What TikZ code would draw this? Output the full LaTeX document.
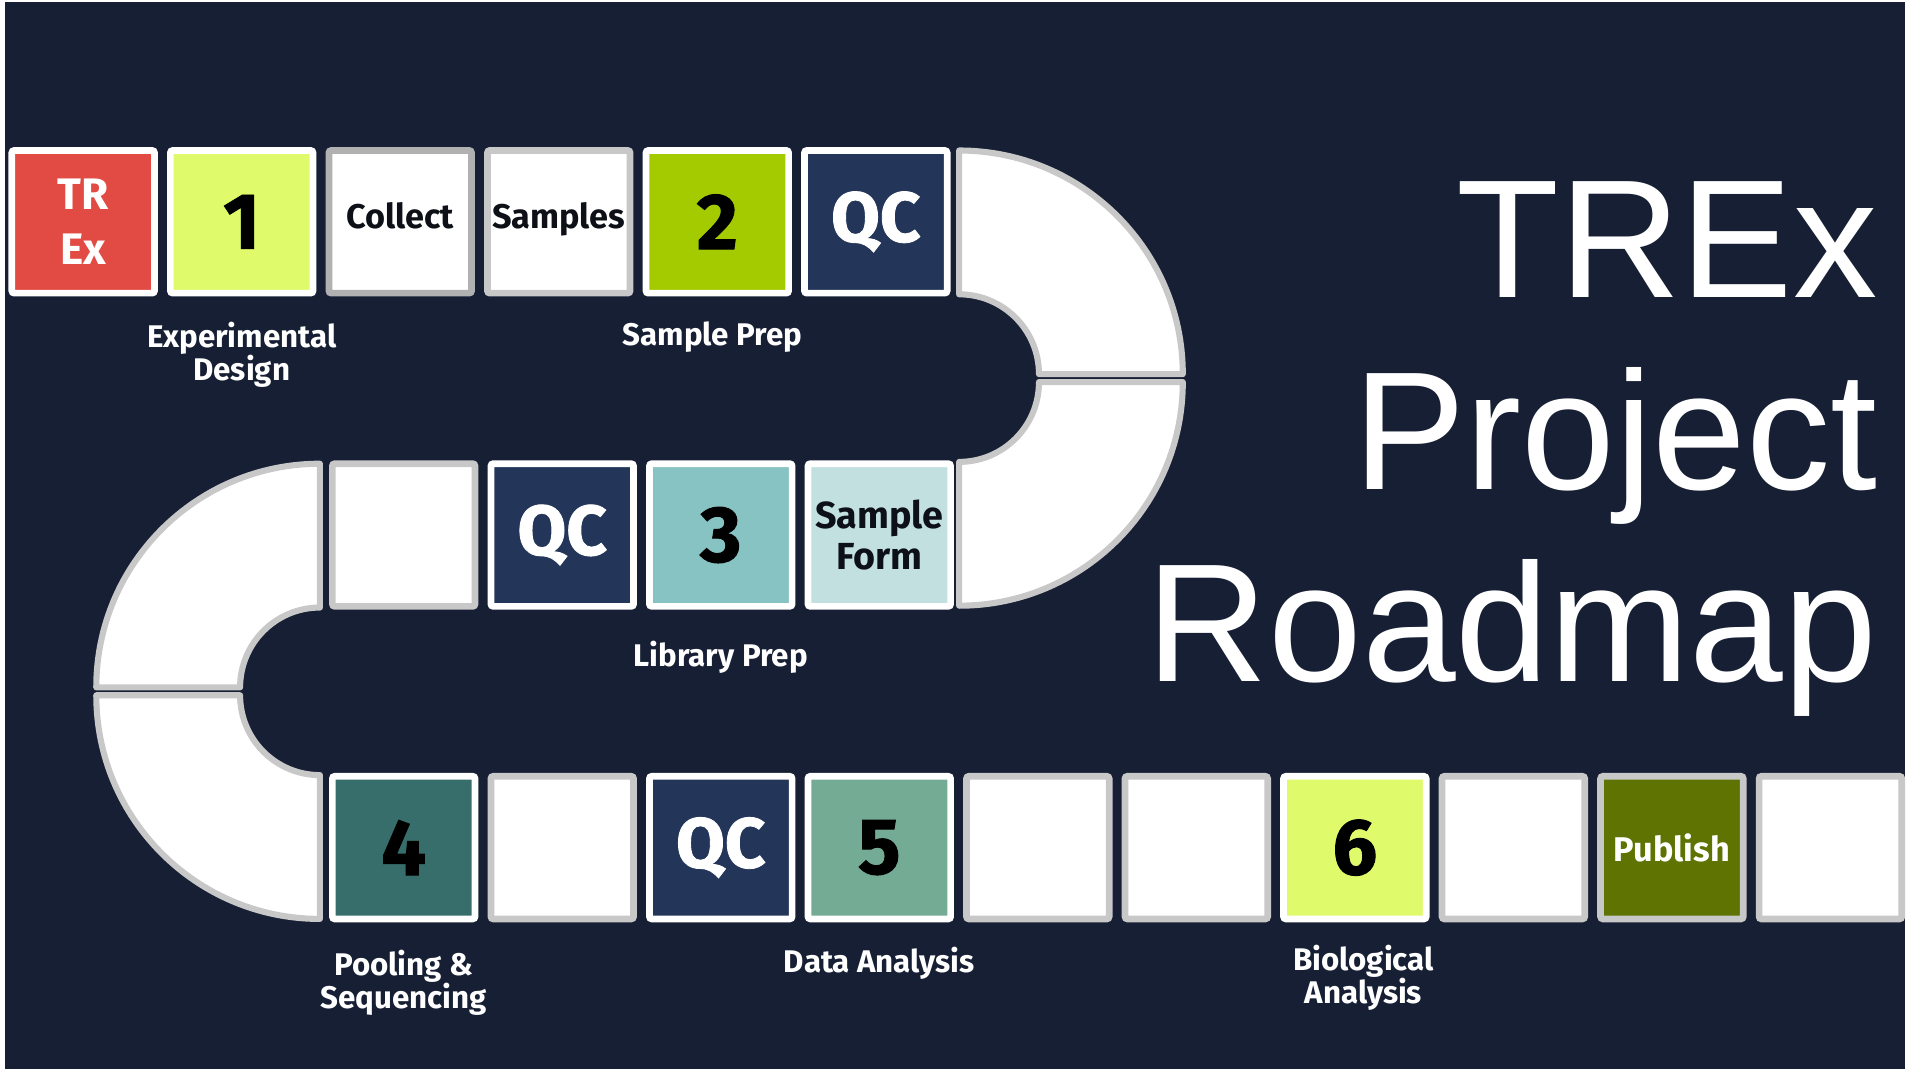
\documentclass[tikz,border=0pt]{standalone}
\usepackage{fontspec}
\setmainfont{Fira Sans}
\newfontfamily\heavyfont[FakeBold=1.2]{Fira Sans}
\newfontfamily\titlefont{Liberation Sans}
\usepackage{tikz}
\usetikzlibrary{positioning}
\usepackage{xcolor}

\definecolor{bgnavy}{HTML}{161F33}
\definecolor{trexred}{HTML}{E14B43}
\definecolor{lime}{HTML}{DFFB6B}
\definecolor{leaf}{HTML}{A3CB00}
\definecolor{qcnavy}{HTML}{233659}
\definecolor{teal}{HTML}{86C3C2}
\definecolor{paleteal}{HTML}{C2E0E0}
\definecolor{deepteal}{HTML}{376E6C}
\definecolor{sage}{HTML}{74AB95}
\definecolor{olive}{HTML}{5E7301}
\definecolor{pathgray}{HTML}{C8C8C8}
\definecolor{darkgray}{HTML}{B1B1B1}
\definecolor{ink}{HTML}{0D1117}

\begin{document}
\begin{tikzpicture}[
  x=0.01cm, y=0.01cm,
  node distance = 0.075cm,
  tile/.style  = {rectangle, draw=white, line width=0.055cm, minimum size=1.17cm,
                  inner sep=0pt, rounded corners=0.02cm, align=center},
  blank/.style = {tile, draw=pathgray, fill=white},
  digit/.style = {text=black, font=\heavyfont\fontsize{18.5}{18.5}\selectfont\bfseries},
  qc/.style    = {tile, fill=qcnavy, text=white,
                  font=\heavyfont\fontsize{16.5}{16.5}\selectfont\bfseries},
  word/.style  = {text=ink, font=\fontsize{8}{9.4}\selectfont\bfseries},
  stage/.style = {text=white, inner sep=0pt, align=center,
                  font=\fontsize{7.3}{7.8}\selectfont\bfseries},
  turnpiece/.style = {draw=pathgray, fill=white, line width=0.05cm, line join=round}
]
% Background
\fill[white] (0,0) rectangle (1568,-877);
\fill[bgnavy] (4,-1.6) rectangle (1563,-877);

% Row 1
\node[tile, fill=trexred, text=white, font=\fontsize{10.3}{12.8}\selectfont\bfseries]
  (trex) at (68.25,-182) {TR\\Ex};
\node[tile, fill=lime, digit, right=of trex] (s1) {1};
\node[blank, draw=darkgray, word, text depth=0.1cm, right=of s1] (collect) {Collect};
\node[blank, word, text depth=0.1cm, right=of collect] (samples) {Samples};
\node[tile, fill=leaf, digit, right=of samples] (s2) {2};
\node[qc, right=of s2] (qc1) {QC};

% Right turn
\draw[turnpiece] (787,-123.5) arc[start angle=90, end angle=0, radius=183.5]
  -- ++(-118,0) arc[start angle=0, end angle=90, radius=65.5] -- cycle;
\draw[turnpiece] (970.5,-313.5) arc[start angle=0, end angle=-90, radius=183.5]
  -- ++(0,118) arc[start angle=-90, end angle=0, radius=65.5] -- cycle;

% Row 2
\node[blank] (b1) at (331.25,-439) {};
\node[qc, right=of b1] (qc2) {QC};
\node[tile, fill=teal, digit, right=of qc2] (s3) {3};
\node[tile, fill=paleteal, word, font=\fontsize{8.8}{9.6}\selectfont\bfseries,
  right=of s3] (form) {Sample\\Form};

% Left turn
\draw[turnpiece] (262.5,-380.5) arc[start angle=90, end angle=180, radius=183.5]
  -- ++(118,0) arc[start angle=180, end angle=90, radius=65.5] -- cycle;
\draw[turnpiece] (79,-570.5) arc[start angle=180, end angle=270, radius=183.5]
  -- ++(0,118) arc[start angle=270, end angle=180, radius=65.5] -- cycle;

% Row 3
\node[tile, fill=deepteal, digit] (s4) at (331.25,-695.5) {4};
\node[blank, right=of s4] (b2) {};
\node[qc, right=of b2] (qc3) {QC};
\node[tile, fill=sage, digit, right=of qc3] (s5) {5};
\node[blank, right=of s5] (b3) {};
\node[blank, right=of b3] (b4) {};
\node[tile, fill=lime, digit, right=of b4] (s6) {6};
\node[blank, right=of s6] (b5) {};
\node[blank, fill=olive, text=white, font=\fontsize{8}{8}\selectfont\bfseries,
  right=of b5] (publish) {Publish};
\node[blank, right=of publish] (b6) {};

% Stage labels
\node[stage, below=0.2cm of s1] (lab1) {Experimental\\Design};
\node[stage, below=0.2cm of s2, xshift=-0.04cm] (lab2) {Sample Prep};
\node[stage, below=0.25cm of s3] (lab3) {Library Prep};
\node[stage, below=0.22cm of s4] (lab4) {Pooling \&\\Sequencing};
\node[stage, below=0.2cm of s5] (lab5) {Data Analysis};
\node[stage, below=0.18cm of s6, xshift=0.07cm] (lab6) {Biological\\Analysis};

% Title
\node[text=white, inner sep=0pt, align=right, anchor=north east,
  font=\titlefont\fontsize{39.3}{44.9}\selectfont] (title) at (1541,-148)
  {TREx\\Project\\Roadmap};
\end{tikzpicture}
\end{document}
